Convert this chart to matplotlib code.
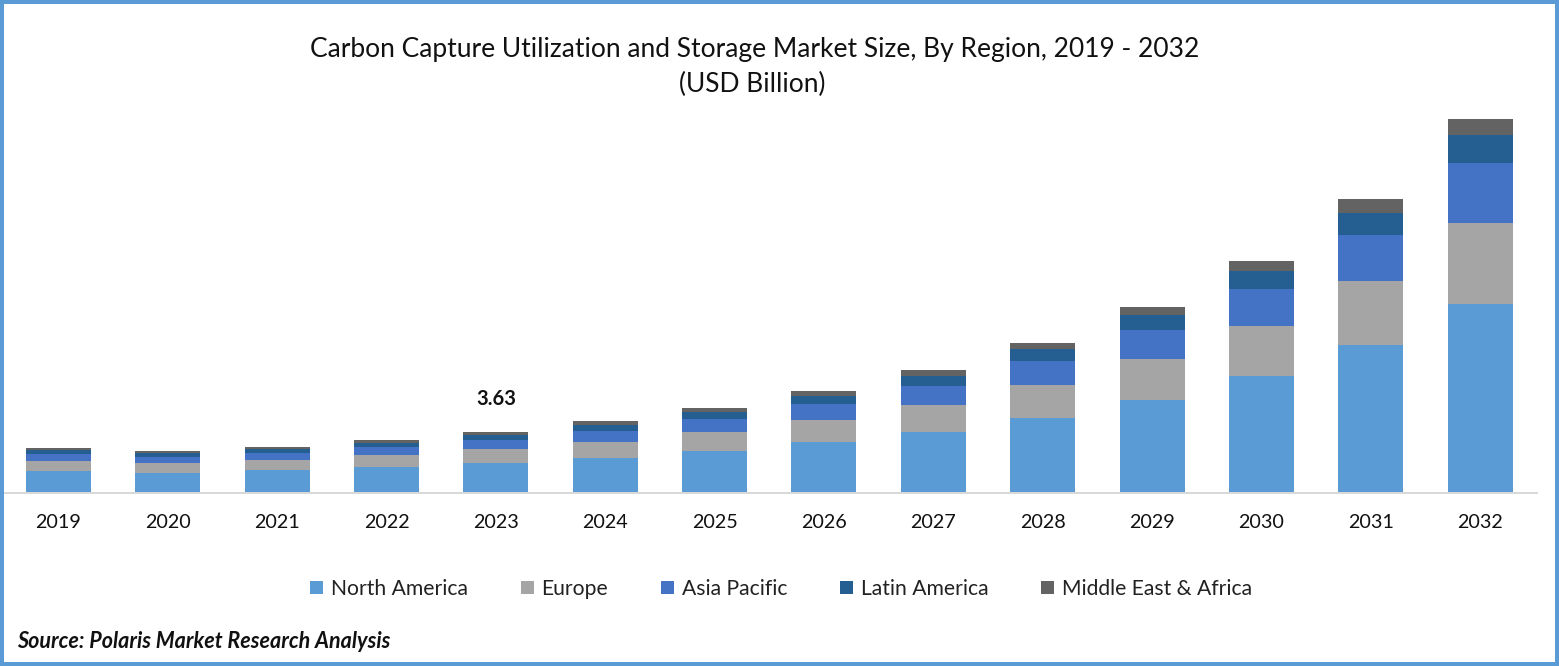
import matplotlib
matplotlib.use("Agg")
import matplotlib.pyplot as plt
import numpy as np
from matplotlib.patches import Rectangle

years = [2019, 2020, 2021, 2022, 2023, 2024, 2025, 2026, 2027, 2028, 2029, 2030, 2031, 2032]
north_america = [1.27, 1.15, 1.33, 1.51, 1.76, 2.06, 2.48, 3.02, 3.63, 4.48, 5.57, 7.02, 8.89, 11.37]
europe = [0.60, 0.60, 0.60, 0.73, 0.85, 0.97, 1.15, 1.33, 1.63, 2.00, 2.48, 3.02, 3.87, 4.90]
asia_pacific = [0.42, 0.36, 0.42, 0.48, 0.54, 0.67, 0.79, 0.97, 1.15, 1.45, 1.75, 2.24, 2.78, 3.63]
latin_america = [0.24, 0.24, 0.24, 0.24, 0.30, 0.36, 0.42, 0.48, 0.60, 0.73, 0.91, 1.09, 1.33, 1.69]
middle_east = [0.12, 0.12, 0.12, 0.18, 0.18, 0.24, 0.24, 0.30, 0.36, 0.36, 0.48, 0.60, 0.85, 0.97]

series = [
    ("North America", north_america, "#5B9BD5"),
    ("Europe", europe, "#A5A5A5"),
    ("Asia Pacific", asia_pacific, "#4472C4"),
    ("Latin America", latin_america, "#255E91"),
    ("Middle East & Africa", middle_east, "#636363"),
]

W, H = 1559, 666
plt.rcParams["font.family"] = ["Lato", "DejaVu Sans"]

fig = plt.figure(figsize=(W / 100, H / 100), dpi=100)
# axes box given in picture pixels: left 4, right 1537, baseline 492, top 100
ax = fig.add_axes([4 / W, 1 - 492 / H, 1533 / W, 392 / H])

pos = np.arange(len(years))
bottom = np.zeros(len(years))
for name, vals, col in series:
    ax.bar(pos, vals, 0.594, bottom=bottom, color=col, label=name, linewidth=0)
    bottom += np.array(vals)

for s in ["top", "left", "right"]:
    ax.spines[s].set_visible(False)
ax.spines["bottom"].set_color("#D9D9D9")
ax.spines["bottom"].set_linewidth(1.44)
# set_position resets the ticks, so it has to come before the tick setup
ax.spines["bottom"].set_position(("outward", 0.72))

ax.set_xlim(-0.498, 13.52)
ax.set_ylim(0, 23.71)
ax.set_xticks(pos)
ax.set_xticklabels(years, fontsize=14.2, color="#111111")
ax.tick_params(axis="x", length=0, pad=14.8)
ax.set_yticks([])

ax.text(4, bottom[4] + 2.0, "3.63", ha="center", va="center", fontsize=14.5, fontweight="bold", color="#111111")

fig.text(755 / W, 1 - 49.5 / H, "Carbon Capture Utilization and Storage Market Size, By Region, 2019 - 2032",
         ha="center", va="center", fontsize=19, color="#111111")
fig.text(752 / W, 1 - 84 / H, "(USD Billion)", ha="center", va="center", fontsize=19, color="#111111")

fig.legend(loc="center", bbox_to_anchor=(781 / W, 1 - 589 / H), ncol=5, frameon=False, fontsize=15.2,
           handlelength=0.62, handleheight=0.62, handletextpad=0.36, columnspacing=2.5, labelcolor="#222222")

fig.text(17 / W, 1 - 642 / H, "Source: Polaris Market Research Analysis", ha="left", va="center",
         fontsize=15.5, fontweight="bold", fontstyle="italic", color="#111111")

# blue frame round the whole picture
fig.add_artist(Rectangle((2 / W, 2 / H), 1 - 4 / W, 1 - 4 / H, transform=fig.transFigure, fill=False,
                         edgecolor="#5B9BD5", linewidth=2.88))

fig.savefig("out.png", dpi=100)
